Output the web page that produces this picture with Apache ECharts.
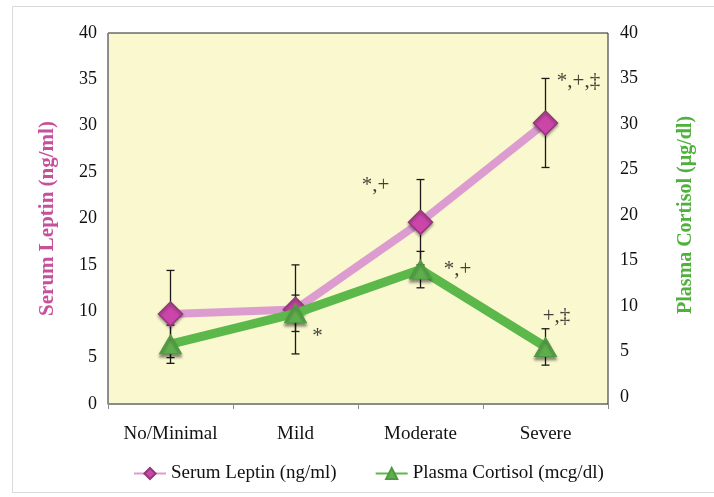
<!DOCTYPE html>
<html>
<head>
<meta charset="utf-8">
<script src="https://cdn.jsdelivr.net/npm/echarts@6/dist/echarts.min.js"></script>
<style>
html,body{margin:0;padding:0;background:#fff;}
#chart{width:714px;height:497px;}
</style>
</head>
<body>
<div id="chart"></div>
<script>
const categories = ['No/Minimal', 'Mild', 'Moderate', 'Severe'];
const leptinMean = [9.7, 10.2, 19.6, 30.3];
const leptinSD = [4.7, 4.8, 4.6, 4.8];
const cortisolMean = [5.8, 9.2, 14.0, 5.5];
const cortisolSD = [2.1, 2.0, 2.0, 2.0];
const leptinMarks = ['', '', '*,+', '*,+,\u2021'];
const cortisolMarks = ['', '*', '*,+', '+,\u2021'];
const yMin = 0, yMax = 40, yStep = 5;

const FONT = 'Liberation Serif';
const chart = echarts.init(document.getElementById('chart'), null, {renderer: 'canvas'});

// label offsets (styling, not data)
const leptinMarkOffset = [[0,0],[0,0],[-45,-37],[33,-41]];
const cortisolMarkOffset = [[0,0],[22,23],[37,0],[11,-30]];

function errRender(params, api) {
  const x = api.value(0), m = api.value(1), s = api.value(2);
  const top = api.coord([x, m + s]);
  const bot = api.coord([x, m - s]);
  const hw = 4;
  const st = {stroke: '#1a1a1a', lineWidth: 1.3};
  return {type: 'group', children: [
    {type: 'line', shape: {x1: top[0], y1: top[1], x2: bot[0], y2: bot[1]}, style: st},
    {type: 'line', shape: {x1: top[0] - hw, y1: top[1], x2: top[0] + hw, y2: top[1]}, style: st},
    {type: 'line', shape: {x1: bot[0] - hw, y1: bot[1], x2: bot[0] + hw, y2: bot[1]}, style: st}
  ]};
}

function markData(means, marks, offs) {
  return means.map((v, i) => ({
    value: [i, v],
    label: {show: marks[i] !== '', formatter: marks[i], offset: offs[i]}
  }));
}

const option = {
  animation: false,
  backgroundColor: '#ffffff',
  graphic: [{
    type: 'rect', shape: {x: 12.5, y: 6.5, width: 720, height: 486},
    style: {fill: 'none', stroke: '#d9d9d9', lineWidth: 1}, silent: true, z: -10
  }],
  grid: [
    {left: 108, right: 106, top: 33, bottom: 93, show: true, backgroundColor: '#faf8cf', borderColor: '#222', borderWidth: 1},
    {left: 108, right: 106, top: 33, bottom: 100, show: false}
  ],
  legend: {
    left: 128, top: 459,
    itemWidth: 32, itemHeight: 14, itemGap: 38,
    textStyle: {fontFamily: FONT, fontSize: 19, color: '#111'},
    data: ['Serum Leptin (ng/ml)', 'Plasma Cortisol (mcg/dl)']
  },
  xAxis: [
    {type: 'category', gridIndex: 0, data: categories, boundaryGap: true,
     axisLine: {lineStyle: {color: '#8a8a8a', width: 1}},
     axisTick: {show: true, length: 5, lineStyle: {color: '#8a8a8a'}},
     axisLabel: {fontFamily: FONT, fontSize: 19, color: '#111', margin: 21}},
    {type: 'category', gridIndex: 1, data: categories, boundaryGap: true, show: false}
  ],
  yAxis: [
    {type: 'value', gridIndex: 0, min: yMin, max: yMax, interval: yStep, position: 'left',
     name: 'Serum Leptin (ng/ml)', nameLocation: 'middle', nameGap: 50, nameRotate: 90,
     nameTextStyle: {fontFamily: FONT, fontSize: 21, fontWeight: 'bold', color: '#c6519b'},
     axisLine: {show: true, lineStyle: {color: '#8a8a8a'}},
     axisTick: {show: false},
     splitLine: {show: false},
     axisLabel: {fontFamily: FONT, fontSize: 18, color: '#111', margin: 11}},
    {type: 'value', gridIndex: 1, min: yMin, max: yMax, interval: yStep, position: 'right',
     name: 'Plasma Cortisol (\u00b5g/dl)', nameLocation: 'middle', nameGap: 68, nameRotate: 90,
     nameTextStyle: {fontFamily: FONT, fontSize: 20, fontWeight: 'bold', color: '#4fb13c'},
     axisLine: {show: false},
     axisTick: {show: false},
     splitLine: {show: false},
     axisLabel: {fontFamily: FONT, fontSize: 18, color: '#111', margin: 12}}
  ],
  series: [
    {type: 'custom', name: 'leptinErr', xAxisIndex: 0, yAxisIndex: 0, z: 2,
     renderItem: errRender, data: categories.map((c, i) => [i, leptinMean[i], leptinSD[i]])},
    {type: 'custom', name: 'cortErr', xAxisIndex: 1, yAxisIndex: 1, z: 2,
     renderItem: errRender, data: categories.map((c, i) => [i, cortisolMean[i], cortisolSD[i]])},
    {type: 'line', name: 'Serum Leptin (ng/ml)', xAxisIndex: 0, yAxisIndex: 0, z: 3,
     data: leptinMean,
     symbol: 'diamond', symbolSize: [24, 24],
     lineStyle: {color: '#dc9cd0', width: 8},
     itemStyle: {color: '#cc46aa', borderColor: '#8e3a78', borderWidth: 1.5,
                 shadowBlur: 3, shadowColor: 'rgba(0,0,0,0.35)', shadowOffsetY: 2}},
    {type: 'line', name: 'Plasma Cortisol (mcg/dl)', xAxisIndex: 1, yAxisIndex: 1, z: 4,
     data: cortisolMean,
     symbol: 'triangle', symbolSize: [22, 19],
     lineStyle: {color: '#5cb84a', width: 9},
     itemStyle: {color: '#5fae4e', borderColor: '#4c9a3e', borderWidth: 1,
                 shadowBlur: 3, shadowColor: 'rgba(0,0,0,0.45)', shadowOffsetY: 3}},
    {type: 'scatter', name: 'leptinMarks', xAxisIndex: 0, yAxisIndex: 0, z: 5,
     symbolSize: 0, silent: true,
     label: {position: 'inside', fontFamily: FONT, fontSize: 21, color: '#111'},
     data: markData(leptinMean, leptinMarks, leptinMarkOffset)},
    {type: 'scatter', name: 'cortMarks', xAxisIndex: 1, yAxisIndex: 1, z: 5,
     symbolSize: 0, silent: true,
     label: {position: 'inside', fontFamily: FONT, fontSize: 21, color: '#111'},
     data: markData(cortisolMean, cortisolMarks, cortisolMarkOffset)}
  ]
};
chart.setOption(option);
</script>
</body>
</html>
